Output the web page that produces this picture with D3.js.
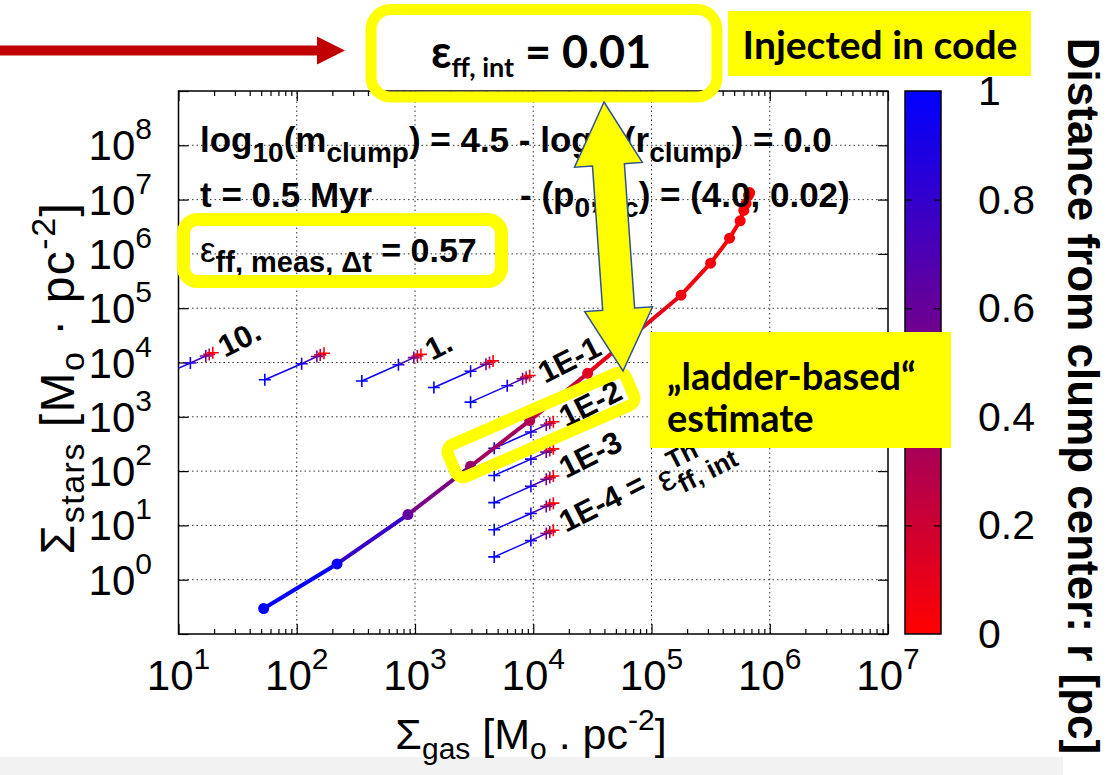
<!DOCTYPE html>
<html>
<head>
<meta charset="utf-8">
<script src="https://cdn.jsdelivr.net/npm/d3@7"></script>
<style>
  body { margin: 0; background: #fff; }
  svg text { font-family: "Liberation Sans", Arial, sans-serif; }
  .slide { font-family: Lato, "Open Sans", sans-serif !important; font-weight: bold; }
</style>
</head>
<body>
<script>
// Main simulated track: gas / stars surface density and distance r from clump center
const trackGas   = [52.5, 219, 871, 2951, 9333, 28840, 177800, 316200, 457000, 562000, 603000, 631000, 661000, 676000];
const trackStars = [0.295, 1.95, 15.8, 123, 851, 6310, 173800, 676000, 1.95e6, 4.07e6, 6.31e6, 8.51e6, 1.20e7, 1.35e7];
const trackR     = [1.0, 0.95, 0.62, 0.42, 0.3, 0.12, 0.06, 0.04, 0.03, 0.02, 0.015, 0.01, 0.005, 0.0];

// "ladder" tracks, five points each
const ladderGas = [
  [6.2, 12.6, 17.0, 18.2, 19.5],
  [53.7, 110, 148, 158, 170],
  [355, 724, 977, 1047, 1122],
  [1445, 2951, 3981, 4266, 4571],
  [2951, 6026, 8128, 8710, 9333],
  [4677, 9550, 12880, 13800, 14790],
  [4677, 9550, 12880, 13800, 14790],
  [4677, 9550, 12880, 13800, 14790],
  [4677, 9550, 12880, 13800, 14790],
  [4677, 9550, 12880, 13800, 14790]
];
const ladderStars = [
  [4900, 9800, 13200, 14100, 15100],
  [4800, 9500, 12900, 13800, 14800],
  [4570, 9100, 12300, 13200, 14100],
  [3470, 6900, 9300, 10000, 10700],
  [1860, 3720, 5010, 5370, 5750],
  [263, 525, 708, 759, 813],
  [83.2, 166, 224, 240, 257],
  [26.3, 52.5, 70.8, 75.9, 81.3],
  [8.32, 16.6, 22.4, 24.0, 25.7],
  [2.63, 5.25, 7.08, 7.59, 8.13]
];
const ladderR = [1.0, 0.9, 0.55, 0.3, 0.02];

// ladder labels and where they sit
const ladderLabels = ['10.', '1.', '1E-1', '1E-2', '1E-3', '1E-4 ='];
const ladderLabelPos = [[225, 358], [432, 361], [545, 384], [566, 428], [566, 479], [566, 533]];

const xExponents = [1, 2, 3, 4, 5, 6, 7];
const yExponents = [0, 1, 2, 3, 4, 5, 6, 7, 8];
const cbTicks = [0, 0.2, 0.4, 0.6, 0.8, 1];

const W = 1113, H = 775;
const svg = d3.select('body').append('svg').attr('width', W).attr('height', H);

const x = d3.scaleLog().domain([1e1, 1e7]).range([178.5, 888]);
const y = d3.scaleLog().domain([1e-1, 1e9]).range([634, 91]);
const color = d3.scaleLinear().domain([0, 1]).range(['#ff0000', '#0000ff']);
const isPow = v => Math.abs(Math.log10(v) - Math.round(Math.log10(v))) < 1e-9;

// grey strip at the bottom of the slide
svg.append('rect').attr('x', 0).attr('y', 757).attr('width', 1063).attr('height', 18).attr('fill', '#f2f2f2');

// grid
const gx = xExponents.slice(1, -1).map(e => Math.pow(10, e));
const gy = yExponents.map(e => Math.pow(10, e));
svg.append('g').selectAll('line').data(gx).enter().append('line')
  .attr('x1', d => x(d)).attr('x2', d => x(d)).attr('y1', y(1e-1)).attr('y2', y(1e9))
  .attr('stroke', '#333').attr('stroke-width', 1).attr('stroke-dasharray', '1.5,3');
svg.append('g').selectAll('line').data(gy).enter().append('line')
  .attr('y1', d => y(d)).attr('y2', d => y(d)).attr('x1', x(1e1)).attr('x2', x(1e7))
  .attr('stroke', '#333').attr('stroke-width', 1).attr('stroke-dasharray', '1.5,3');

// ticks on all four sides, pointing inward
const xMajor = x.ticks().filter(isPow), xMinor = x.ticks().filter(v => !isPow(v));
const yMajor = y.ticks().filter(isPow), yMinor = y.ticks().filter(v => !isPow(v));
const noDomain = g => g.select('.domain').remove();
function ticks(axis, tx, ty) {
  svg.append('g').attr('transform', `translate(${tx},${ty})`).call(axis.tickFormat('').tickSizeOuter(0)).call(noDomain)
    .selectAll('line').attr('stroke', '#000').attr('stroke-width', 1.2);
}
ticks(d3.axisBottom(x).tickValues(xMajor).tickSizeInner(-10), 0, 634);
ticks(d3.axisBottom(x).tickValues(xMinor).tickSizeInner(-5), 0, 634);
ticks(d3.axisTop(x).tickValues(xMajor).tickSizeInner(-10), 0, 91);
ticks(d3.axisTop(x).tickValues(xMinor).tickSizeInner(-5), 0, 91);
ticks(d3.axisLeft(y).tickValues(yMajor).tickSizeInner(-10), 178.5, 0);
ticks(d3.axisLeft(y).tickValues(yMinor).tickSizeInner(-5), 178.5, 0);
ticks(d3.axisRight(y).tickValues(yMajor).tickSizeInner(-10), 888, 0);
ticks(d3.axisRight(y).tickValues(yMinor).tickSizeInner(-5), 888, 0);

svg.append('rect').attr('x', 178.5).attr('y', 91).attr('width', 888 - 178.5).attr('height', 634 - 91)
  .attr('fill', 'none').attr('stroke', '#000').attr('stroke-width', 1.5);

// tick labels
xExponents.forEach(e => {
  const t = svg.append('text').attr('x', x(Math.pow(10, e))).attr('y', 690)
    .attr('text-anchor', 'middle').attr('font-size', 42);
  t.append('tspan').text('10');
  t.append('tspan').attr('font-size', 30).attr('dy', -21).text(e);
});
yExponents.forEach(e => {
  const t = svg.append('text').attr('x', 152).attr('y', y(Math.pow(10, e)) + 15)
    .attr('text-anchor', 'end').attr('font-size', 42);
  t.append('tspan').text('10');
  t.append('tspan').attr('font-size', 30).attr('dy', -21).text(e);
});

// axis titles
function unitTitle(t, sub, dot, subSize) {
  t.append('tspan').text('Σ');
  t.append('tspan').attr('font-size', subSize).attr('dy', 10).text(sub);
  t.append('tspan').attr('dy', -10).text(' [M');
  t.append('tspan').attr('font-size', subSize).attr('dy', 10).text('o');
  t.append('tspan').attr('dy', -10).text(` ${dot} pc`);
  t.append('tspan').attr('font-size', subSize).attr('dy', -19).text('-2');
  t.append('tspan').attr('dy', 19).text(']');
}
unitTitle(svg.append('text').attr('x', 531).attr('y', 749).attr('text-anchor', 'middle').attr('font-size', 43), 'gas', '.', 30);
unitTitle(svg.append('text').attr('transform', 'translate(74,378) rotate(-90)').attr('text-anchor', 'middle')
  .attr('font-size', 48).attr('letter-spacing', 1.5), 'stars', '·', 34);

// data, clipped to the frame
svg.append('clipPath').attr('id', 'clip').append('rect')
  .attr('x', 178.5).attr('y', 91).attr('width', 888 - 178.5).attr('height', 634 - 91);
const plot = svg.append('g').attr('clip-path', 'url(#clip)');

ladderGas.forEach((gas, k) => {
  const pts = gas.map((g, i) => ({ g: g, s: ladderStars[k][i], r: ladderR[i] }));
  const lg = plot.append('g');
  lg.selectAll('line').data(d3.pairs(pts)).enter().append('line')
    .attr('x1', d => x(d[0].g)).attr('y1', d => y(d[0].s))
    .attr('x2', d => x(d[1].g)).attr('y2', d => y(d[1].s))
    .attr('stroke', d => color((d[0].r + d[1].r) / 2)).attr('stroke-width', 1.5);
  lg.selectAll('path').data(pts).enter().append('path')
    .attr('d', d => `M${x(d.g) - 6},${y(d.s)}h12M${x(d.g)},${y(d.s) - 6}v12`)
    .attr('stroke', d => color(d.r)).attr('stroke-width', 1.6).attr('fill', 'none');
});

const track = trackGas.map((g, i) => ({ g: g, s: trackStars[i], r: trackR[i] }));
plot.append('g').selectAll('line').data(d3.pairs(track)).enter().append('line')
  .attr('x1', d => x(d[0].g)).attr('y1', d => y(d[0].s))
  .attr('x2', d => x(d[1].g)).attr('y2', d => y(d[1].s))
  .attr('stroke', d => color((d[0].r + d[1].r) / 2)).attr('stroke-width', 4).attr('stroke-linecap', 'round');
plot.append('g').selectAll('circle').data(track).enter().append('circle')
  .attr('cx', d => x(d.g)).attr('cy', d => y(d.s)).attr('r', 5.5).attr('fill', d => color(d.r));

// ladder labels
ladderLabels.forEach((lab, i) => {
  svg.append('text').attr('transform', `translate(${ladderLabelPos[i][0]},${ladderLabelPos[i][1]}) rotate(-27)`)
    .attr('font-size', 31).attr('font-weight', 'bold').text(lab);
});
const th = svg.append('g').attr('transform', `translate(${ladderLabelPos[5][0] + 2},${ladderLabelPos[5][1] + 9}) rotate(-27)`);
th.append('text').attr('x', 108).attr('y', 0).attr('font-size', 36).text('ε');
th.append('text').attr('x', 125).attr('y', -17).attr('font-size', 26).attr('font-weight', 'bold').text('Th');
th.append('text').attr('x', 125).attr('y', 9).attr('font-size', 26).attr('font-weight', 'bold').text('ff, int');

// labels inside the plot
const info = svg.append('g').attr('font-size', 35).attr('font-weight', 'bold');
function rich(parts, tx, ty) {
  const t = info.append('text').attr('x', tx).attr('y', ty);
  let down = false;
  parts.forEach(p => {
    const sub = Array.isArray(p);
    const s = t.append('tspan').text(sub ? p[0] : p);
    if (sub && !down) { s.attr('dy', 10).attr('font-size', 28); down = true; }
    else if (sub) { s.attr('font-size', 28); }
    else if (down) { s.attr('dy', -10); down = false; }
  });
}
rich(['log', ['10'], '(m', ['clump'], ') = 4.5 - log', ['10'], '(r', ['clump'], ') = 0.0'], 200, 152);
rich(['t = 0.5 Myr'], 200, 207);
rich(['- (p', ['0'], ', r', ['c'], ') = (4.0, 0.02)'], 520, 207);

const meas = svg.append('text').attr('x', 200).attr('y', 262).attr('font-size', 34);
meas.append('tspan').attr('font-size', 35).text('ε');
meas.append('tspan').attr('font-size', 29).attr('font-weight', 'bold').attr('dy', 10).text('ff, meas, Δt');
meas.append('tspan').attr('font-weight', 'bold').attr('dy', -10).text(' = 0.57');

// colour bar
const cb = d3.scaleLinear().domain([0, 1]).range([634, 91]);
const grad = svg.append('defs').append('linearGradient').attr('id', 'cbgrad')
  .attr('x1', 0).attr('y1', 1).attr('x2', 0).attr('y2', 0);
grad.append('stop').attr('offset', 0).attr('stop-color', color(0));
grad.append('stop').attr('offset', 1).attr('stop-color', color(1));
svg.append('rect').attr('x', 905).attr('y', cb(1)).attr('width', 36).attr('height', cb(0) - cb(1))
  .attr('fill', 'url(#cbgrad)').attr('stroke', '#000').attr('stroke-width', 1.5);
ticks(d3.axisLeft(cb).tickValues(cbTicks.slice(1, -1)).tickSizeInner(-7), 905, 0);
ticks(d3.axisRight(cb).tickValues(cbTicks.slice(1, -1)).tickSizeInner(-7), 941, 0);
svg.append('g').selectAll('text').data(cbTicks).enter().append('text')
  .attr('x', 978).attr('y', d => cb(d) + 14).attr('font-size', 41).text(d => d3.format('')(d));

svg.append('text').attr('transform', 'translate(1068,396) rotate(90)').attr('text-anchor', 'middle')
  .attr('font-size', 44).attr('font-weight', 'bold').text('Distance from clump center: r [pc]');

// slide annotations
const yellow = '#ffff00';
svg.append('rect').attr('x', 183.5).attr('y', 219.5).attr('width', 318).attr('height', 62).attr('rx', 14)
  .attr('fill', 'none').attr('stroke', yellow).attr('stroke-width', 13);
svg.append('rect').attr('transform', 'translate(541,425) rotate(-23.5)')
  .attr('x', -97).attr('y', -17.5).attr('width', 194).attr('height', 35).attr('rx', 8)
  .attr('fill', 'none').attr('stroke', yellow).attr('stroke-width', 12);

svg.append('rect').attr('x', 371).attr('y', 9.5).attr('width', 346).attr('height', 87.5).attr('rx', 20)
  .attr('fill', 'none').attr('stroke', yellow).attr('stroke-width', 11);
const injText = svg.append('text').attr('class', 'slide').attr('x', 541).attr('y', 68).attr('text-anchor', 'middle').attr('font-size', 45);
injText.append('tspan').text('ε');
injText.append('tspan').attr('font-size', 27).attr('dy', 9).text('ff, int');
injText.append('tspan').attr('dy', -9).text(' = 0.01');

svg.append('rect').attr('x', 728).attr('y', 11).attr('width', 303).attr('height', 65).attr('fill', yellow);
svg.append('text').attr('class', 'slide').attr('x', 880).attr('y', 59).attr('text-anchor', 'middle')
  .attr('font-size', 39).text('Injected in code');

svg.append('path').attr('d', 'M0,45.5H317V36.5L345,50.5L317,64.5V55.5H0Z').attr('fill', '#c00000');

const L = 269.7;
svg.append('path').attr('transform', 'translate(604,102) rotate(-4.04)')
  .attr('d', `M0,0L34,63H16V${L - 62}H34L0,${L}L-34,${L - 62}H-16V63H-34Z`)
  .attr('fill', yellow).attr('stroke', '#2f528f').attr('stroke-width', 1.5);

svg.append('rect').attr('x', 650).attr('y', 332).attr('width', 301).attr('height', 116).attr('fill', yellow);
svg.append('text').attr('class', 'slide').attr('x', 667).attr('y', 390).attr('font-size', 38).text('„ladder-based“');
svg.append('text').attr('class', 'slide').attr('x', 667).attr('y', 432).attr('font-size', 38).text('estimate');
</script>
</body>
</html>
